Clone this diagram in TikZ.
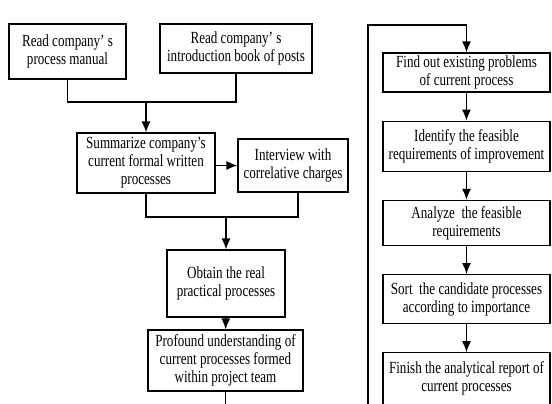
\documentclass[tikz,border=0pt]{standalone}
\usepackage{fontspec}
\setmainfont[FakeStretch=0.77]{Liberation Serif}
\usetikzlibrary{arrows.meta,positioning}

\tikzset{
  procbox/.style={draw, line width=1.2pt, align=center, inner sep=0pt,
    font=\fontsize{17}{18}\selectfont},
  flow/.style={-{Latex[length=11pt,width=9pt]}},
}

\begin{document}
\begin{tikzpicture}[%
    x=1pt, y=-1pt,
    line width=1.3pt,
    node distance=28pt,
  ]
    \useasboundingbox (0,0) rectangle (552,404);

    % left column
    \node (ReadMan)  [procbox, minimum width=117pt, minimum height=55pt] at (67.5,51.5) {Read company' s\\process manual};
    \node (ReadBook) [procbox, minimum width=152pt, minimum height=49pt] at (236,48.5)  {Read company' s\\introduction book of posts};
    \node (Summ)     [procbox, minimum width=138pt, minimum height=60pt] at (146,163)   {Summarize company's\\current formal written\\processes};
    \node (Intv)     [procbox, minimum width=110pt, minimum height=53pt] at (293,165.5) {Interview with\\correlative charges};
    \node (Obtain)   [procbox, minimum width=118pt, minimum height=67pt] at (226,283.5) {Obtain the real\\practical processes};
    \node (Prof)     [procbox, minimum width=155pt, minimum height=61pt] at (225.5,360.5) {Profound understanding of\\current processes formed\\within project team};

    % right column
    \node (Find)    [procbox, minimum width=167pt, minimum height=39pt] at (466.5,72.5) {Find out existing problems\\of current process};
    \node (Ident)   [procbox, minimum width=167pt, minimum height=50pt, below=of Find]    {Identify the feasible\\requirements of improvement};
    \node (Analyze) [procbox, minimum width=167pt, minimum height=45pt, below=of Ident]   {Analyze\ \ the feasible\\requirements};
    \node (Sort)    [procbox, minimum width=167pt, minimum height=49pt, below=of Analyze] {Sort\ \ the candidate processes\\according to importance};
    \node (Finish)  [procbox, minimum width=167pt, minimum height=52pt, below=of Sort]    {Finish the analytical report of\\current processes};

    \coordinate (JoinA)   at (146,102);
    \coordinate (JoinB)   at (226,217);
    \coordinate (LoopBot) at (368,404);
    \coordinate (LoopTop) at (368,25);
    \coordinate (ProfEnd) at (Prof.south |- LoopBot);

    \draw (ReadMan.south) |- (JoinA) -| (ReadBook.south);
    \draw (Summ.south) |- (JoinB) -| ([xshift=5pt]Intv.south);
    \draw (Prof.south) -- (ProfEnd);
    \draw[flow] (LoopBot) -- (LoopTop) -| (Find.north);

    \path[flow] (JoinA)                  edge (Summ.north)
                (Summ.east |- Intv.west) edge (Intv.west)
                (JoinB)                  edge (Obtain.north)
                (Obtain)                 edge (Prof)
                (Find)                   edge (Ident)
                (Ident)                  edge (Analyze)
                (Analyze)                edge (Sort)
                (Sort)                   edge (Finish)
                ;
  \end{tikzpicture}
\end{document}
